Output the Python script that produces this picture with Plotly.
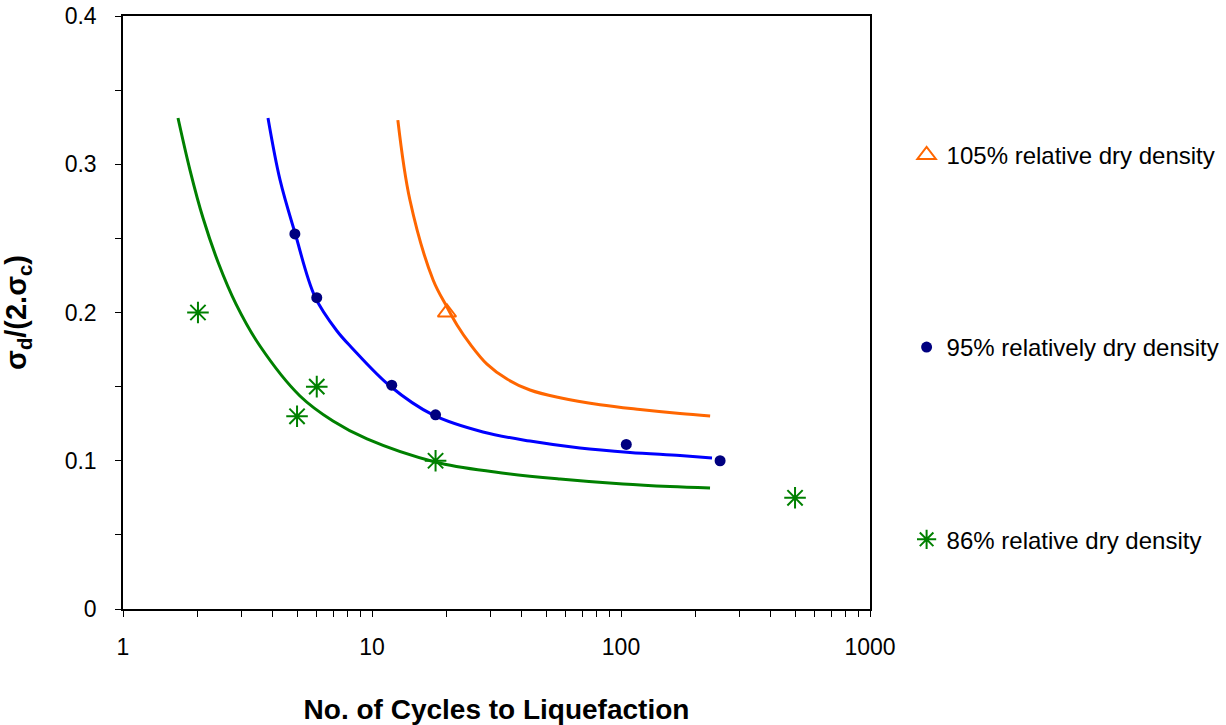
import plotly.graph_objects as go

# Measured data
n95 = [4.9, 6, 12, 18, 105, 250]
r95 = [0.253, 0.21, 0.151, 0.131, 0.111, 0.1]
n105 = [20]
r105 = [0.2]
n86 = [2, 5, 6, 18, 500]
r86 = [0.2, 0.13, 0.15, 0.1, 0.075]

# Trend curves
c86_x = [1.663, 1.858, 2.096, 2.407, 2.844, 3.549, 5.138, 6.972, 9.548, 17.91, 31.19, 56.89, 101.9, 157.3, 227.8]
c86_y = [0.3312, 0.2961, 0.2637, 0.2341, 0.2057, 0.1774, 0.1437, 0.1268, 0.1147, 0.0992, 0.0924, 0.0877, 0.0843, 0.0826, 0.0816]
c95_x = [3.822, 4.272, 4.908, 5.905, 7.235, 8.31, 11.81, 17.58, 27.9, 43.1, 68.4, 108.7, 172.6, 232]
c95_y = [0.3312, 0.2894, 0.2536, 0.2105, 0.1875, 0.1761, 0.1504, 0.1309, 0.1194, 0.1133, 0.1086, 0.1056, 0.1035, 0.1019]
c105_x = [12.7, 14.2, 17.6, 20.0, 21.95, 24.75, 28.96, 34.85, 43.1, 56.9, 82.4, 119.2, 172.6, 228]
c105_y = [0.3298, 0.2759, 0.2219, 0.2037, 0.1916, 0.1788, 0.1652, 0.1551, 0.1477, 0.1425, 0.1378, 0.1346, 0.1319, 0.1302]

ORANGE = "#FF6600"
BLUE = "#0000FF"
NAVY = "#000080"
GREEN = "#008000"
FONT = "Liberation Sans, Arial, sans-serif"

fig = go.Figure()
fig.add_trace(go.Scatter(x=c86_x, y=c86_y, mode="lines", line=dict(color=GREEN, width=3, shape="spline", smoothing=1),
                         showlegend=False, hoverinfo="skip"))
fig.add_trace(go.Scatter(x=c95_x, y=c95_y, mode="lines", line=dict(color=BLUE, width=3, shape="spline", smoothing=1),
                         showlegend=False, hoverinfo="skip"))
fig.add_trace(go.Scatter(x=c105_x, y=c105_y, mode="lines", line=dict(color=ORANGE, width=3, shape="spline", smoothing=1),
                         showlegend=False, hoverinfo="skip"))

fig.add_trace(go.Scatter(x=n105, y=r105, mode="markers", name="105% relative dry density",
                         legendgroup="a",
                         marker=dict(symbol="triangle-up-open", size=16, color=ORANGE, line=dict(width=2, color=ORANGE))))
fig.add_trace(go.Scatter(x=n95, y=r95, mode="markers", name="95% relatively dry density",
                         legendgroup="b",
                         marker=dict(symbol="circle", size=11, color=NAVY)))
fig.add_trace(go.Scatter(x=n86, y=r86, mode="markers", name="86% relative dry density",
                         legendgroup="c",
                         marker=dict(symbol="asterisk-open", size=18, color=GREEN, line=dict(width=2, color=GREEN))))

fig.update_layout(
    width=1226, height=725,
    margin=dict(l=123, r=356, t=16, b=116, autoexpand=False),
    paper_bgcolor="white", plot_bgcolor="white",
    font=dict(family=FONT, size=22, color="black"),
    legend=dict(x=1.049, xanchor="left", y=0.803, yanchor="top",
                tracegroupgap=158, font=dict(size=24, family=FONT),
                bgcolor="rgba(0,0,0,0)", itemwidth=30),
    xaxis=dict(type="log", range=[0, 3], dtick=1, automargin=False,
               showline=True, linecolor="black", linewidth=1.5, mirror=True,
               showgrid=False, zeroline=False,
               ticks="outside", ticklen=6, tickcolor="black", tickwidth=1,
               minor=dict(ticks="outside", ticklen=6, dtick="D1", tickcolor="black", showgrid=False),
               ticklabelstandoff=11,
               tickfont=dict(size=23, family=FONT),
               title=dict(text="<b>No. of Cycles to Liquefaction</b>", font=dict(size=28, family=FONT), standoff=40)),
    yaxis=dict(range=[0, 0.4], dtick=0.1, automargin=False,
               showline=True, linecolor="black", linewidth=1.5, mirror=True,
               showgrid=False, zeroline=False,
               ticks="outside", ticklen=6, tickcolor="black", tickwidth=1,
               minor=dict(ticks="outside", ticklen=6, dtick=0.05, tickcolor="black", showgrid=False),
               ticklabelstandoff=14,
               tickfont=dict(size=23, family=FONT),
               title=dict(text="<b>σ<sub>d</sub>/(2.σ<sub>c</sub>)</b>", font=dict(size=29, family=FONT), standoff=39)),
)

fig.write_html("out.html")
